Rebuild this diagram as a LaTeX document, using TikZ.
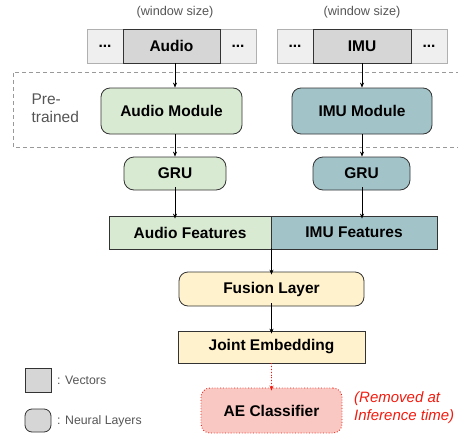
\documentclass[tikz,border=0pt]{standalone}
\usepackage{fontspec}
\setmainfont{Liberation Sans}
\usetikzlibrary{arrows.meta}
\definecolor{gfill}{HTML}{D9EAD3}
\definecolor{tfill}{HTML}{A2C4C9}
\definecolor{yfill}{HTML}{FFF2CC}
\definecolor{rfill}{HTML}{F9C8C2}
\definecolor{vin}{HTML}{D6D6D6}
\definecolor{vout}{HTML}{EFEFEF}
\definecolor{vborder}{HTML}{B0B0B0}
\definecolor{edge}{HTML}{333333}
\definecolor{txtgray}{HTML}{555555}
\definecolor{rtext}{HTML}{F21B0F}
\begin{document}
\begin{tikzpicture}[x=1pt,y=-1pt,
  lbl/.style={font=\fontsize{15.5}{18}\selectfont\bfseries, text=black},
  box/.style={draw=edge, line width=0.8pt, inner sep=0pt, lbl},
  rbox/.style={box, rounded corners=9pt},
  vecout/.style={draw=vborder, fill=vout, line width=0.7pt, inner sep=0pt, minimum width=36pt, minimum height=34pt, lbl},
  vecin/.style={draw=edge, fill=vin, line width=0.8pt, inner sep=0pt, minimum height=34pt, lbl},
  arr/.style={-{Stealth[length=5pt,width=4pt]}, line width=0.7pt, black},
  small/.style={font=\fontsize{12.7}{15}\selectfont, text=txtgray},
]
\useasboundingbox (0,0) rectangle (458,434);

% pre-trained dashed frame
\draw[dashed, dash pattern=on 4pt off 3pt, draw=black!40, line width=0.8pt]
  (460,72) -- (13,72) -- (13,147) -- (460,147);
\node[anchor=west, align=left, font=\fontsize{15.5}{17.5}\selectfont, text=txtgray] (pre) at (28,108) {Pre-\\trained};

% column positions
\coordinate (colA) at (175,0);
\coordinate (colB) at (362,0);

% window size labels
\node[small] (wsA) at (175,12) {(window size)};
\node[small] (wsB) at (362,12) {(window size)};

% vectors
\node[vecout] (aL) at (105,46) {\textbf{...}};
\node[vecout] (aR) at (238,46) {\textbf{...}};
\node[vecin, minimum width=97pt] (audio) at (171.5,46) {Audio};
\node[vecout] (iL) at (295,46) {\textbf{...}};
\node[vecout] (iR) at (429,46) {\textbf{...}};
\node[vecin, minimum width=98pt] (imu) at (362,46) {IMU};

% modules
\node[rbox, fill=gfill, minimum width=141pt, minimum height=46pt] (amod) at (171.5,111) {Audio Module};
\node[rbox, fill=tfill, minimum width=140pt, minimum height=46pt] (imod) at (362,111) {IMU Module};

% GRUs
\node[rbox, rounded corners=10pt, fill=gfill, minimum width=102pt, minimum height=33pt] (agru) at (175,173.5) {GRU};
\node[rbox, rounded corners=10pt, fill=tfill, minimum width=97pt, minimum height=33pt] (igru) at (361.5,173.5) {GRU};

% features
\node[box, fill=gfill, minimum width=162pt, minimum height=33pt] (afeat) at (190,232.5) {Audio Features};
\node[box, fill=tfill, minimum width=166pt, minimum height=33pt] (ifeat) at (354,232.5) {IMU Features};

% fusion & joint
\node[rbox, fill=yfill, minimum width=185pt, minimum height=34pt] (fusion) at (271.5,289) {Fusion Layer};
\node[box, fill=yfill, minimum width=187pt, minimum height=32pt] (joint) at (271.5,347) {Joint Embedding};
\node[box, draw=rtext, dotted, line width=0.9pt, rounded corners=9pt, fill=rfill, minimum width=141pt, minimum height=45pt] (ae) at (271.5,410.5) {AE Classifier};
\node[anchor=west, align=left, font=\fontsize{15}{18}\selectfont\itshape, text=rtext, inner sep=0pt] (removed) at (354,408) {(Removed at\\Inference time)};

% arrows
\draw[arr] (audio.south -| colA) -- (amod.north -| colA);
\draw[arr] (imu.south -| colB) -- (imod.north -| colB);
\draw[arr] (amod.south -| colA) -- (agru.north -| colA);
\draw[arr] (imod.south -| colB) -- (igru.north -| colB);
\draw[arr] ([yshift=3pt]agru.south -| colA) -- ([yshift=-3pt]afeat.north -| colA);
\draw[arr] ([yshift=3pt]igru.south -| colB) -- ([yshift=-3pt]ifeat.north -| colB);
\draw[arr] ([yshift=1pt]afeat.south east) -- ([yshift=-3pt]fusion.north);
\draw[arr] ([yshift=3pt]fusion.south) -- ([yshift=-3pt]joint.north);
\draw[-{Stealth[length=5pt,width=4pt]}, line width=0.8pt, draw=rtext, fill=rtext, dotted] (joint.south) -- ([yshift=-3pt]ae.north);

% legend
\node[draw=edge, fill=vin, line width=0.8pt, minimum width=26pt, minimum height=24pt, inner sep=0pt] (lvec) at (38,380) {};
\node[draw=edge, fill=vin, line width=0.8pt, rounded corners=7pt, minimum width=26pt, minimum height=23pt, inner sep=0pt] (lnn) at (38,420.5) {};
\node[anchor=west, font=\fontsize{12.3}{14}\selectfont, text=txtgray, inner sep=0pt] (lvect) at (57,380) {: Vectors};
\node[anchor=west, font=\fontsize{12.3}{14}\selectfont, text=txtgray, inner sep=0pt] (lnnt) at (57,421) {: Neural Layers};
\end{tikzpicture}
\end{document}
